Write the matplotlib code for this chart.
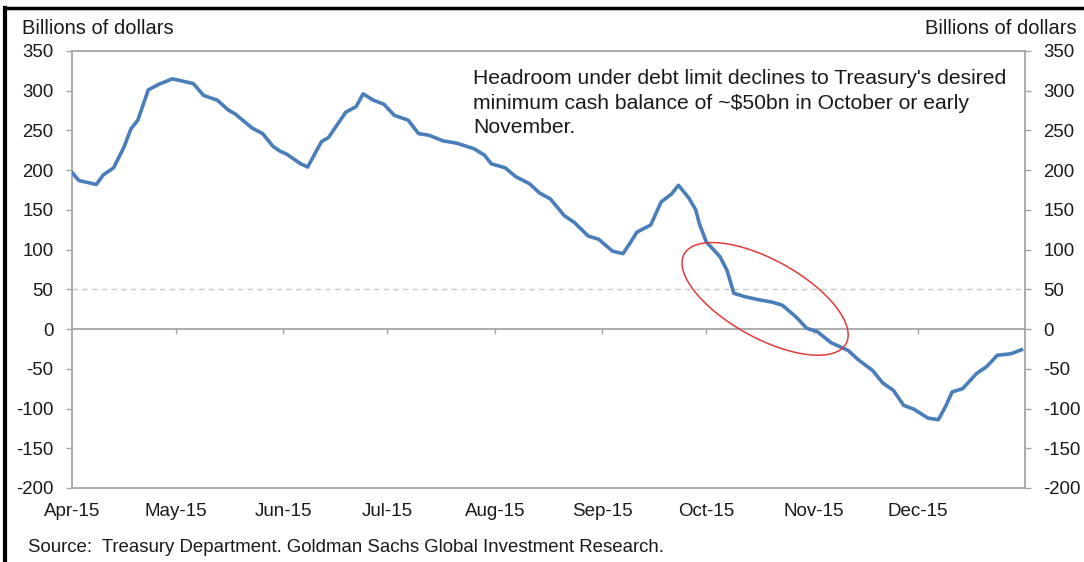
import numpy as np
import pandas as pd
import matplotlib
matplotlib.use('Agg')
import matplotlib.pyplot as plt
import matplotlib.dates as mdates
from matplotlib.patches import Ellipse
from matplotlib.transforms import IdentityTransform
from matplotlib.lines import Line2D

plt.rcParams['font.family'] = ['Liberation Sans', 'DejaVu Sans']
plt.rcParams['axes.unicode_minus'] = False

# headroom under the debt limit, billions of dollars
dates = ['2015-04-01', '2015-04-03', '2015-04-08', '2015-04-10', '2015-04-13',
         '2015-04-16', '2015-04-18', '2015-04-20', '2015-04-23', '2015-04-26',
         '2015-04-30', '2015-05-03', '2015-05-06', '2015-05-09', '2015-05-13',
         '2015-05-16', '2015-05-18', '2015-05-23', '2015-05-26', '2015-05-29',
         '2015-05-31', '2015-06-02', '2015-06-06', '2015-06-08', '2015-06-12',
         '2015-06-14', '2015-06-19', '2015-06-22', '2015-06-24', '2015-06-27',
         '2015-06-30', '2015-07-03', '2015-07-07', '2015-07-10', '2015-07-13',
         '2015-07-17', '2015-07-21', '2015-07-26', '2015-07-29', '2015-07-31',
         '2015-08-04', '2015-08-07', '2015-08-11', '2015-08-14', '2015-08-17',
         '2015-08-21', '2015-08-24', '2015-08-28', '2015-08-31', '2015-09-04',
         '2015-09-07', '2015-09-09', '2015-09-11', '2015-09-15', '2015-09-18',
         '2015-09-21', '2015-09-23', '2015-09-26', '2015-09-28', '2015-09-29',
         '2015-10-01', '2015-10-05', '2015-10-07', '2015-10-09', '2015-10-12',
         '2015-10-16', '2015-10-20', '2015-10-23', '2015-10-27', '2015-10-30',
         '2015-11-02', '2015-11-06', '2015-11-11', '2015-11-14', '2015-11-18',
         '2015-11-21', '2015-11-24', '2015-11-27', '2015-11-30', '2015-12-04',
         '2015-12-07', '2015-12-09', '2015-12-11', '2015-12-14', '2015-12-18',
         '2015-12-21', '2015-12-24', '2015-12-28', '2015-12-31']
headroom = [197, 187, 182, 194, 203,
            229, 252, 263, 301, 308,
            315, 312, 309, 294, 288,
            276, 271, 253, 246, 230,
            224, 220, 208, 204, 236,
            241, 273, 280, 296, 288,
            283, 269, 263, 246, 244,
            237, 234, 227, 219, 208,
            203, 192, 183, 171, 164,
            143, 134, 117, 113, 98,
            95, 108, 122, 131, 160,
            170, 181, 165, 150, 133,
            110, 91, 74, 45, 41,
            37, 34, 30, 15, 1,
            -3, -17, -27, -39, -52,
            -68, -77, -96, -101, -112,
            -114, -98, -79, -75, -56,
            -47, -33, -31, -26]

month_starts = pd.date_range('2015-04-01', '2015-12-01', freq='MS')
month_labels = [d.strftime('%b-%y') for d in month_starts]
y_ticks = list(range(-200, 351, 50))
min_cash = 50

note_lines = ["Headroom under debt limit declines to Treasury's desired",
              "minimum cash balance of ~$50bn in October or early",
              "November."]
source = "Source:  Treasury Department. Goldman Sachs Global Investment Research."

x = pd.to_datetime(dates)
grey = '#a6a6a6'
txt = '#1a1a1a'

fig = plt.figure(figsize=(10.84, 5.62), dpi=100)
ax = fig.add_axes([72/1084, 1 - 488/562, (1025 - 72)/1084, (488 - 51)/562])

ax.axhline(min_cash, color='#c8c8c8', lw=1.0, ls=(0, (4, 3)), zorder=1)
ax.axhline(0, color=grey, lw=1.3, zorder=1)
ax.vlines(month_starts[1:], -6, 0, color=grey, lw=1.0, zorder=1)
ax.plot(x, headroom, color='#4a7ebb', lw=2.6, zorder=3, solid_joinstyle='round')

ax.set_xlim(pd.Timestamp('2015-04-01'), pd.Timestamp('2016-01-01'))
ax.set_ylim(-200, 350)
ax.set_xticks(month_starts)
ax.set_xticklabels(month_labels)
ax.set_yticks(y_ticks)
ax.tick_params(axis='x', length=0, pad=11, labelsize=13.5, labelcolor=txt)
ax.tick_params(axis='y', length=4.3, width=1.0, color=grey, labelsize=13.4,
               labelcolor=txt, left=True, right=True, labelleft=True,
               labelright=True, pad=9)
for s in ax.spines.values():
    s.set_color(grey)
    s.set_linewidth(1.3)

fig.text(22/1084, 1 - 29/562, 'Billions of dollars', fontsize=14.5, color=txt,
         ha='left', va='center')
fig.text(1077/1084, 1 - 29/562, 'Billions of dollars', fontsize=14.5, color=txt,
         ha='right', va='center')
for i, line in enumerate(note_lines):
    fig.text(473/1084, 1 - (79 + 24.5 * i)/562, line, fontsize=15.2, color=txt,
             ha='left', va='center')
fig.text(28/1084, 1 - 548/562, source, fontsize=13.4, color=txt, ha='left',
         va='center')

# red ellipse around the crossing of the $50bn line
cx, cy = ax.transData.transform((mdates.date2num(pd.Timestamp('2015-10-18')), 38))
ax.add_patch(Ellipse((cx, cy), 185, 78, angle=-29, transform=IdentityTransform(),
                     fill=False, ec='#e23b3b', lw=1.1, zorder=4))

# black frame on the top and left of the picture
fig.add_artist(Line2D([5/1084, 5/1084], [0, 1 - 8/562], color='black', lw=3,
                      transform=fig.transFigure))
fig.add_artist(Line2D([5/1084, 1], [1 - 8/562, 1 - 8/562], color='black', lw=2.5,
                      transform=fig.transFigure))

fig.savefig('out.png', dpi=100)
